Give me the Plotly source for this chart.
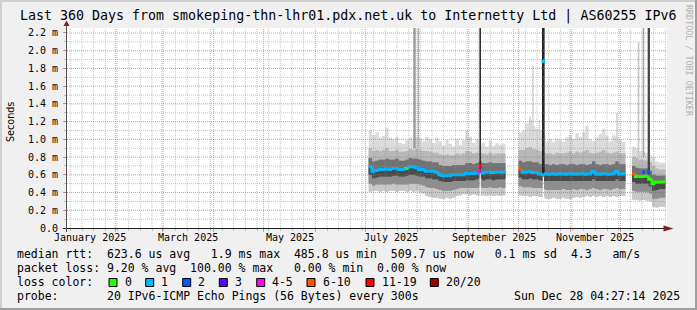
import pandas as pd
import plotly.graph_objects as go

# ---------------- data (values in milliseconds) ----------------
bucket_start = "2025-07-03"
bucket_days = 2

median = [0.69, 0.64, 0.65, 0.66, 0.66, 0.665, 0.66, 0.67, 0.67, 0.66,
          0.66, 0.67, 0.69, 0.69, 0.68, 0.66, 0.66, 0.64, 0.64, 0.64,
          0.63, 0.60, 0.59, 0.59, 0.59, 0.60, 0.60, 0.60, 0.60, 0.615,
          0.615, 0.615, 0.62, 0.65, 0.62, 0.63, 0.63, 0.625, 0.63, 0.63,
          0.63, None, None, None, None,
          0.66, 0.63, 0.63, 0.635, 0.625, 0.625, 0.61, 0.60, 0.61, 0.605,
          0.61, 0.605, 0.61, 0.61, 0.605, 0.61, 0.61, 0.605, 0.61, 0.61,
          0.605, 0.61, 0.64, 0.61, 0.605, 0.61, 0.61, 0.605, 0.61, 0.64,
          0.61, 0.61, None, None,
          0.61, 0.58, 0.58, 0.58, 0.585, 0.55, 0.50, 0.515, 0.52, 0.52]

q_top = [1.11, 1.05, 1.08, 1.02, 1.04, 1.13, 1.02, 1.00, 1.03, 0.96,
         0.95, 0.99, 1.02, 1.00, 1.03, 1.01, 0.98, 1.03, 1.00, 0.96,
         1.02, 0.98, 0.93, 0.99, 0.95, 0.92, 1.00, 0.94, 0.99, 1.10,
         1.03, 0.96, 1.00, 0.94, 0.96, 0.92, 0.99, 0.93, 0.96, 0.94,
         0.95, None, None, None, None,
         1.08, 1.10, 1.18, 1.22, 1.15, 1.12, 1.10, 1.05, 0.98, 1.00,
         0.97, 1.01, 0.99, 0.97, 1.02, 1.05, 1.00, 1.07, 1.03, 1.08,
         1.15, 1.00, 0.98, 1.02, 1.06, 1.12, 1.04, 0.98, 1.05, 1.03,
         0.99, 0.97, None, None,
         0.92, 0.90, 0.87, 0.86, 0.85, 0.82, 0.80, 0.75, 0.74, 0.74]

q_hi2 = [0.90, 0.87, 0.88, 0.87, 0.88, 0.90, 0.87, 0.87, 0.88, 0.86,
         0.86, 0.87, 0.89, 0.88, 0.89, 0.88, 0.87, 0.87, 0.86, 0.85,
         0.85, 0.83, 0.82, 0.83, 0.82, 0.82, 0.84, 0.83, 0.84, 0.87,
         0.86, 0.84, 0.85, 0.84, 0.84, 0.83, 0.85, 0.83, 0.84, 0.84,
         0.84, None, None, None, None,
         0.88, 0.88, 0.90, 0.91, 0.89, 0.88, 0.87, 0.85, 0.84, 0.84,
         0.83, 0.85, 0.84, 0.84, 0.85, 0.86, 0.84, 0.86, 0.85, 0.86,
         0.88, 0.85, 0.84, 0.85, 0.86, 0.88, 0.85, 0.84, 0.85, 0.86,
         0.84, 0.84, None, None,
         0.80, 0.79, 0.77, 0.77, 0.76, 0.74, 0.70, 0.67, 0.66, 0.66]

q_hi1 = [0.79, 0.75, 0.76, 0.77, 0.77, 0.78, 0.77, 0.77, 0.78, 0.76,
         0.76, 0.77, 0.79, 0.78, 0.78, 0.77, 0.76, 0.75, 0.75, 0.74,
         0.74, 0.71, 0.70, 0.70, 0.70, 0.71, 0.71, 0.71, 0.71, 0.73,
         0.73, 0.72, 0.73, 0.75, 0.73, 0.73, 0.74, 0.73, 0.73, 0.73,
         0.73, None, None, None, None,
         0.76, 0.74, 0.75, 0.75, 0.74, 0.74, 0.72, 0.71, 0.72, 0.71,
         0.72, 0.71, 0.72, 0.72, 0.71, 0.72, 0.72, 0.71, 0.72, 0.72,
         0.71, 0.72, 0.75, 0.72, 0.71, 0.72, 0.72, 0.71, 0.72, 0.75,
         0.72, 0.72, None, None,
         0.70, 0.68, 0.67, 0.67, 0.67, 0.64, 0.60, 0.59, 0.59, 0.59]

q_lo1 = [0.60, 0.56, 0.57, 0.58, 0.58, 0.58, 0.58, 0.59, 0.59, 0.58,
         0.58, 0.59, 0.60, 0.60, 0.59, 0.58, 0.58, 0.56, 0.56, 0.55,
         0.55, 0.53, 0.52, 0.52, 0.52, 0.53, 0.53, 0.53, 0.53, 0.54,
         0.54, 0.54, 0.55, 0.56, 0.54, 0.55, 0.55, 0.54, 0.55, 0.55,
         0.55, None, None, None, None,
         0.57, 0.55, 0.55, 0.56, 0.55, 0.55, 0.54, 0.53, 0.53, 0.53,
         0.53, 0.53, 0.53, 0.53, 0.53, 0.53, 0.53, 0.53, 0.53, 0.53,
         0.53, 0.53, 0.55, 0.53, 0.53, 0.53, 0.53, 0.53, 0.53, 0.55,
         0.53, 0.53, None, None,
         0.52, 0.50, 0.50, 0.50, 0.50, 0.47, 0.42, 0.43, 0.44, 0.44]

q_lo2 = [0.50, 0.48, 0.49, 0.49, 0.49, 0.49, 0.49, 0.50, 0.49, 0.49,
         0.49, 0.49, 0.50, 0.50, 0.50, 0.49, 0.48, 0.46, 0.45, 0.45,
         0.44, 0.43, 0.42, 0.42, 0.42, 0.43, 0.44, 0.45, 0.45, 0.45,
         0.45, 0.45, 0.45, 0.46, 0.45, 0.45, 0.46, 0.45, 0.45, 0.46,
         0.45, None, None, None, None,
         0.47, 0.46, 0.46, 0.46, 0.45, 0.45, 0.45, 0.44, 0.43, 0.43,
         0.43, 0.43, 0.43, 0.44, 0.43, 0.43, 0.44, 0.43, 0.44, 0.44,
         0.43, 0.44, 0.45, 0.44, 0.43, 0.44, 0.44, 0.43, 0.44, 0.45,
         0.44, 0.44, None, None,
         0.42, 0.41, 0.41, 0.41, 0.41, 0.39, 0.33, 0.33, 0.34, 0.34]

q_bot = [0.41, 0.42, 0.42, 0.41, 0.42, 0.41, 0.42, 0.42, 0.41, 0.42,
         0.42, 0.41, 0.42, 0.41, 0.42, 0.40, 0.39, 0.36, 0.35, 0.34,
         0.34, 0.33, 0.33, 0.34, 0.33, 0.34, 0.36, 0.37, 0.38, 0.38,
         0.37, 0.38, 0.37, 0.36, 0.37, 0.36, 0.37, 0.36, 0.37, 0.36,
         0.37, None, None, None, None,
         0.37, 0.36, 0.36, 0.35, 0.36, 0.36, 0.35, 0.34, 0.33, 0.33,
         0.34, 0.33, 0.33, 0.34, 0.33, 0.33, 0.34, 0.35, 0.34, 0.35,
         0.36, 0.35, 0.36, 0.35, 0.36, 0.35, 0.36, 0.35, 0.36, 0.35,
         0.36, 0.36, None, None,
         0.32, 0.32, 0.31, 0.32, 0.31, 0.30, 0.24, 0.23, 0.24, 0.24]

loss = [1, 1, 1, 1, 1, 1, 1, 1, 1, 1,
        1, 0, 1, 1, 1, 1, 1, 1, 1, 1,
        1, 1, 1, 1, 1, 1, 1, 1, 1, 1,
        1, 1, 1, 5, 1, 1, 1, 1, 1, 1,
        1, None, None, None, None,
        8, 1, 1, 1, 1, 1, 1, 1, 1, 1,
        1, 1, 1, 1, 1, 1, 1, 1, 1, 1,
        1, 1, 1, 1, 1, 1, 1, 1, 1, 1,
        1, 1, None, None,
        8, 0, 0, 0, 0, 0, 0, 0, 0, 0]

# narrow outliers (single rrd rows)
spike_time = ["2025-07-30 12:00", "2025-08-01 21:00", "2025-09-07 22:00",
              "2025-10-15 19:00", "2025-12-11 22:00", "2025-12-14 22:00",
              "2025-12-18 02:00", "2025-10-07 19:00", "2025-10-09 14:00",
              "2025-10-13 12:00", "2025-11-29 00:00"]
spike_lo = [0.90, 0.90, 0.64, 0.60, 0.80, 0.80, 0.60, 1.00, 1.00, 1.00, 0.95]
spike_hi = [3.00, 3.00, 3.00, 3.00, 2.09, 3.00, 3.00, 1.26, 1.83, 1.22, 1.30]
spike_colors = ["#9a9a9a", "#b2b2b2", "#333333", "#262626", "#c8c8c8",
                "#a8a8a8", "#444444", "#d4d4d4", "#d4d4d4", "#d4d4d4", "#d4d4d4"]
spike_widths = [2.4, 1.6, 1.6, 2.6, 1.6, 1.6, 2.3, 1.6, 1.6, 1.6, 1.6]

gap_time = ["2025-09-07 22:00", "2025-10-15 19:00"]
gap_lo = [0.30, 0.30]
gap_hi = [0.62, 0.58]

mark_time = ["2025-09-07 22:00", "2025-10-15 19:00", "2025-12-14 22:00", "2025-12-18 02:00"]
mark_val = [0.70, 1.88, 0.63, 0.63]
mark_loss = [15, 1, 2, 2]

loss_labels = ["0", "1", "2", "3", "4-5", "6-10", "11-19", "20/20"]
loss_upper = [0, 1, 2, 3, 5, 10, 19, 20]
loss_colors = ["#26ff00", "#00b8ff", "#0059ff", "#5e00ff", "#ff00ff",
               "#ff5500", "#ff0000", "#a10000"]

y_tick_vals = [0.0, 0.2, 0.4, 0.6, 0.8, 1.0, 1.2, 1.4, 1.6, 1.8, 2.0, 2.2]
y_tick_text = ["0.0", "0.2 m", "0.4 m", "0.6 m", "0.8 m", "1.0 m", "1.2 m",
               "1.4 m", "1.6 m", "1.8 m", "2.0 m", "2.2 m"]

month_labels = ["January 2025", "March 2025", "May 2025", "July 2025",
                "September 2025", "November 2025"]
month_label_at = ["2025-01-16 12:00", "2025-03-16 12:00", "2025-05-16 12:00",
                  "2025-07-16 12:00", "2025-09-16 00:00", "2025-11-16 00:00"]

title_text = "Last 360 Days from smokeping-thn-lhr01.pdx.net.uk to Internetty Ltd | AS60255 IPv6"
stat_line1 = "median rtt:  623.6 us avg   1.9 ms max  485.8 us min  509.7 us now   0.1 ms sd  4.3   am/s"
stat_line2 = "packet loss: 9.20 % avg  100.00 % max   0.00 % min  0.00 % now"
stat_line3 = "loss color:"
stat_line4 = "probe:       20 IPv6-ICMP Echo Pings (56 Bytes) every 300s"
stamp_text = "Sun Dec 28 04:27:14 2025"

# ---------------- layout geometry ----------------
W, H = 697, 310
L, R, T, B = 67, 30, 28, 82
PW, PH = W - L - R, H - T - B
X_RANGE = ["2025-01-03", "2025-12-29"]
Y_MAX = PH / 88.64

MONO = "DejaVu Sans Mono"


def px(x):
    return (x - L) / PW


def py(y):
    return (H - B - y) / PH


dates = pd.date_range(bucket_start, periods=len(median), freq=f"{bucket_days}D")
ends = dates + pd.Timedelta(days=bucket_days)
ds = [d.strftime("%Y-%m-%d %H:%M") for d in dates]
de = [d.strftime("%Y-%m-%d %H:%M") for d in ends]

segs, cur = [], []
for i, v in enumerate(median):
    if v is None:
        if cur:
            segs.append(cur)
        cur = []
    else:
        cur.append(i)
if cur:
    segs.append(cur)


def band(upper, lower):
    xs, ys = [], []
    for seg in segs:
        for i in seg:
            xs += [ds[i], de[i]]
            ys += [upper[i], upper[i]]
        for i in reversed(seg):
            xs += [de[i], ds[i]]
            ys += [lower[i], lower[i]]
        xs.append(None)
        ys.append(None)
    return xs, ys


def loss_color(n):
    for up, c in zip(loss_upper, loss_colors):
        if n <= up:
            return c
    return loss_colors[-1]


fig = go.Figure()

# smoke: nested layers, each one painted over the previous
bands = [
    (q_top, q_bot, "#dcdcdc"),
    (q_hi2, q_bot, "#c8c8c8"),
    (q_hi2, q_lo2, "#b8b8b8"),
    (q_hi1, q_lo2, "#8e8e8e"),
    (q_hi1, q_lo1, "#727272"),
    (median, q_lo1, "#4a4a4a"),
]
for up, lo, col in bands:
    xs, ys = band(up, lo)
    fig.add_trace(go.Scatter(x=xs, y=ys, mode="lines", fill="toself", fillcolor=col,
                             line=dict(width=0), hoverinfo="skip", showlegend=False))

for t, lo, hi, c, w in zip(spike_time, spike_lo, spike_hi, spike_colors, spike_widths):
    fig.add_trace(go.Scatter(x=[t, t], y=[lo, hi], mode="lines",
                             line=dict(color=c, width=w), hoverinfo="skip", showlegend=False))
for t, lo, hi in zip(gap_time, gap_lo, gap_hi):
    fig.add_trace(go.Scatter(x=[t, t], y=[lo, hi], mode="lines",
                             line=dict(color="#ffffff", width=1.2), hoverinfo="skip", showlegend=False))

# median line, coloured by loss
med_x = {c: [] for c in loss_colors}
med_y = {c: [] for c in loss_colors}
for seg in segs:
    prev = None
    for i in seg:
        c = loss_color(loss[i])
        if prev is None:
            xs, ys = [ds[i], de[i]], [median[i], median[i]]
        else:
            xs, ys = [ds[i], ds[i], de[i]], [prev, median[i], median[i]]
        med_x[c] += xs + [None]
        med_y[c] += ys + [None]
        prev = median[i]
for c in loss_colors:
    if med_x[c]:
        fig.add_trace(go.Scatter(x=med_x[c], y=med_y[c], mode="lines",
                                 line=dict(color=c, width=3), hoverinfo="skip", showlegend=False))

fig.add_trace(go.Scatter(x=mark_time, y=mark_val, mode="markers",
                         marker=dict(symbol="square", size=3.5,
                                     color=[loss_color(n) for n in mark_loss], line=dict(width=0)),
                         hoverinfo="skip", showlegend=False))

# ---------------- grid (drawn above the smoke, like rrdtool) ----------------
shapes = []
RED = "rgba(222,80,80,0.62)"
GREY = "rgba(143,143,143,0.52)"
DASH = "1px,1px"
month_starts = pd.date_range("2025-02-01", "2025-12-01", freq="MS")
for d in pd.date_range("2025-01-05", "2025-12-28", freq="7D"):
    if d in month_starts:
        continue
    shapes.append(dict(type="line", xref="x", yref="paper", x0=d, x1=d, y0=0, y1=1,
                       line=dict(color=GREY, width=1, dash=DASH), layer="above"))
for d in month_starts:
    shapes.append(dict(type="line", xref="x", yref="paper", x0=d, x1=d, y0=0, y1=1,
                       line=dict(color=RED, width=1, dash=DASH), layer="above"))
for k in range(1, 23):
    v = k * 0.1
    col = RED if k % 2 == 0 else GREY
    shapes.append(dict(type="line", xref="paper", yref="y", x0=0, x1=1, y0=v, y1=v,
                       line=dict(color=col, width=1, dash=DASH), layer="above"))

# axes with arrows
AX = "#1f1f1f"
ARROW = "#7f1f1f"
shapes.append(dict(type="line", xref="paper", yref="paper", x0=px(63), x1=px(669),
                   y0=py(228.5), y1=py(228.5), line=dict(color=AX, width=1), layer="above"))
shapes.append(dict(type="line", xref="paper", yref="paper", x0=px(66.5), x1=px(66.5),
                   y0=py(232), y1=py(25), line=dict(color="#555555", width=1), layer="above"))
shapes.append(dict(type="path", xref="paper", yref="paper",
                   path=f"M{px(663.5)},{py(225.5)} L{px(673.5)},{py(228.5)} L{px(663.5)},{py(231.5)} Z",
                   fillcolor=ARROW, line=dict(width=0), layer="above"))
shapes.append(dict(type="path", xref="paper", yref="paper",
                   path=f"M{px(63.5)},{py(26)} L{px(66.5)},{py(20.5)} L{px(69.5)},{py(26)} Z",
                   fillcolor=ARROW, line=dict(width=0), layer="above"))


# frame shading
def prect(x0, y0, x1, y1, col):
    return dict(type="rect", xref="paper", yref="paper", x0=px(x0), x1=px(x1),
                y0=py(y1), y1=py(y0), fillcolor=col, line=dict(width=0), layer="above")


shapes.append(prect(0, 0, W, 2, "#cfcfcf"))
shapes.append(prect(0, 0, 2, H, "#cfcfcf"))
shapes.append(prect(W - 2, 0, W, H, "#9e9e9e"))
shapes.append(prect(0, H - 2, W, H, "#9e9e9e"))

# loss colour boxes
box_left = [109, 145.7, 182.7, 219.3, 256.7, 307, 366, 430.3]
for bx, c in zip(box_left, loss_colors):
    shapes.append(dict(type="rect", xref="paper", yref="paper",
                       x0=px(bx), x1=px(bx + 8), y0=py(286.5), y1=py(278.5),
                       fillcolor=c, line=dict(color="#000000", width=1), layer="above"))

# ---------------- text ----------------
ann = []


def text(x, y, s, size=11.5, anchor="left", family=MONO, color="#000000", angle=0, xref="paper"):
    ann.append(dict(x=x if xref != "paper" else px(x), y=py(y), xref=xref, yref="paper",
                    text=s.replace(" ", "&nbsp;"),
                    showarrow=False, xanchor=anchor, yanchor="middle", textangle=angle,
                    font=dict(family=family, size=size, color=color)))


text(347.5, 16.5, title_text, size=13.3, anchor="center")
text(10, 122, "Seconds", size=9.6, anchor="center", family="DejaVu Sans", angle=-90)
text(689, 61, "RRDTOOL / TOBI OETIKER", size=8.4, anchor="center", color="#b0b0b0", angle=90)
for lab, at in zip(month_labels, month_label_at):
    text(at, 237.8, lab, size=10, anchor="center", xref="x")
text(14.5, 254.3, stat_line1)
text(14.5, 268.3, stat_line2)
text(14.5, 282.3, stat_line3)
text(14.5, 296.3, stat_line4)
text(682, 296.3, stamp_text, anchor="right")
for bx, lab in zip(box_left, loss_labels):
    text(bx + 13.5, 282.3, lab)

fig.update_layout(
    width=W, height=H,
    margin=dict(l=L, r=R, t=T, b=B, pad=0),
    paper_bgcolor="#f0f0f0", plot_bgcolor="#ffffff",
    showlegend=False,
    shapes=shapes, annotations=ann,
    xaxis=dict(type="date", range=X_RANGE, showgrid=False, zeroline=False, showline=False,
               showticklabels=False, tick0="2025-01-01", dtick="M1",
               ticks="outside", ticklen=3, tickcolor=RED,
               minor=dict(tick0="2025-01-05", dtick=7 * 86400000, ticks="outside",
                          ticklen=2, tickcolor=GREY, showgrid=False)),
    yaxis=dict(range=[0, Y_MAX], showgrid=False, zeroline=False, showline=False,
               tickmode="array", tickvals=y_tick_vals, ticktext=y_tick_text,
               ticks="outside", ticklen=3, tickcolor=RED, ticklabelstandoff=3,
               tickfont=dict(family=MONO, size=10, color="#000000"),
               minor=dict(tickmode="linear", tick0=0, dtick=0.1, ticks="outside",
                          ticklen=2, tickcolor=GREY, showgrid=False)),
)

fig.write_html("out.html")
